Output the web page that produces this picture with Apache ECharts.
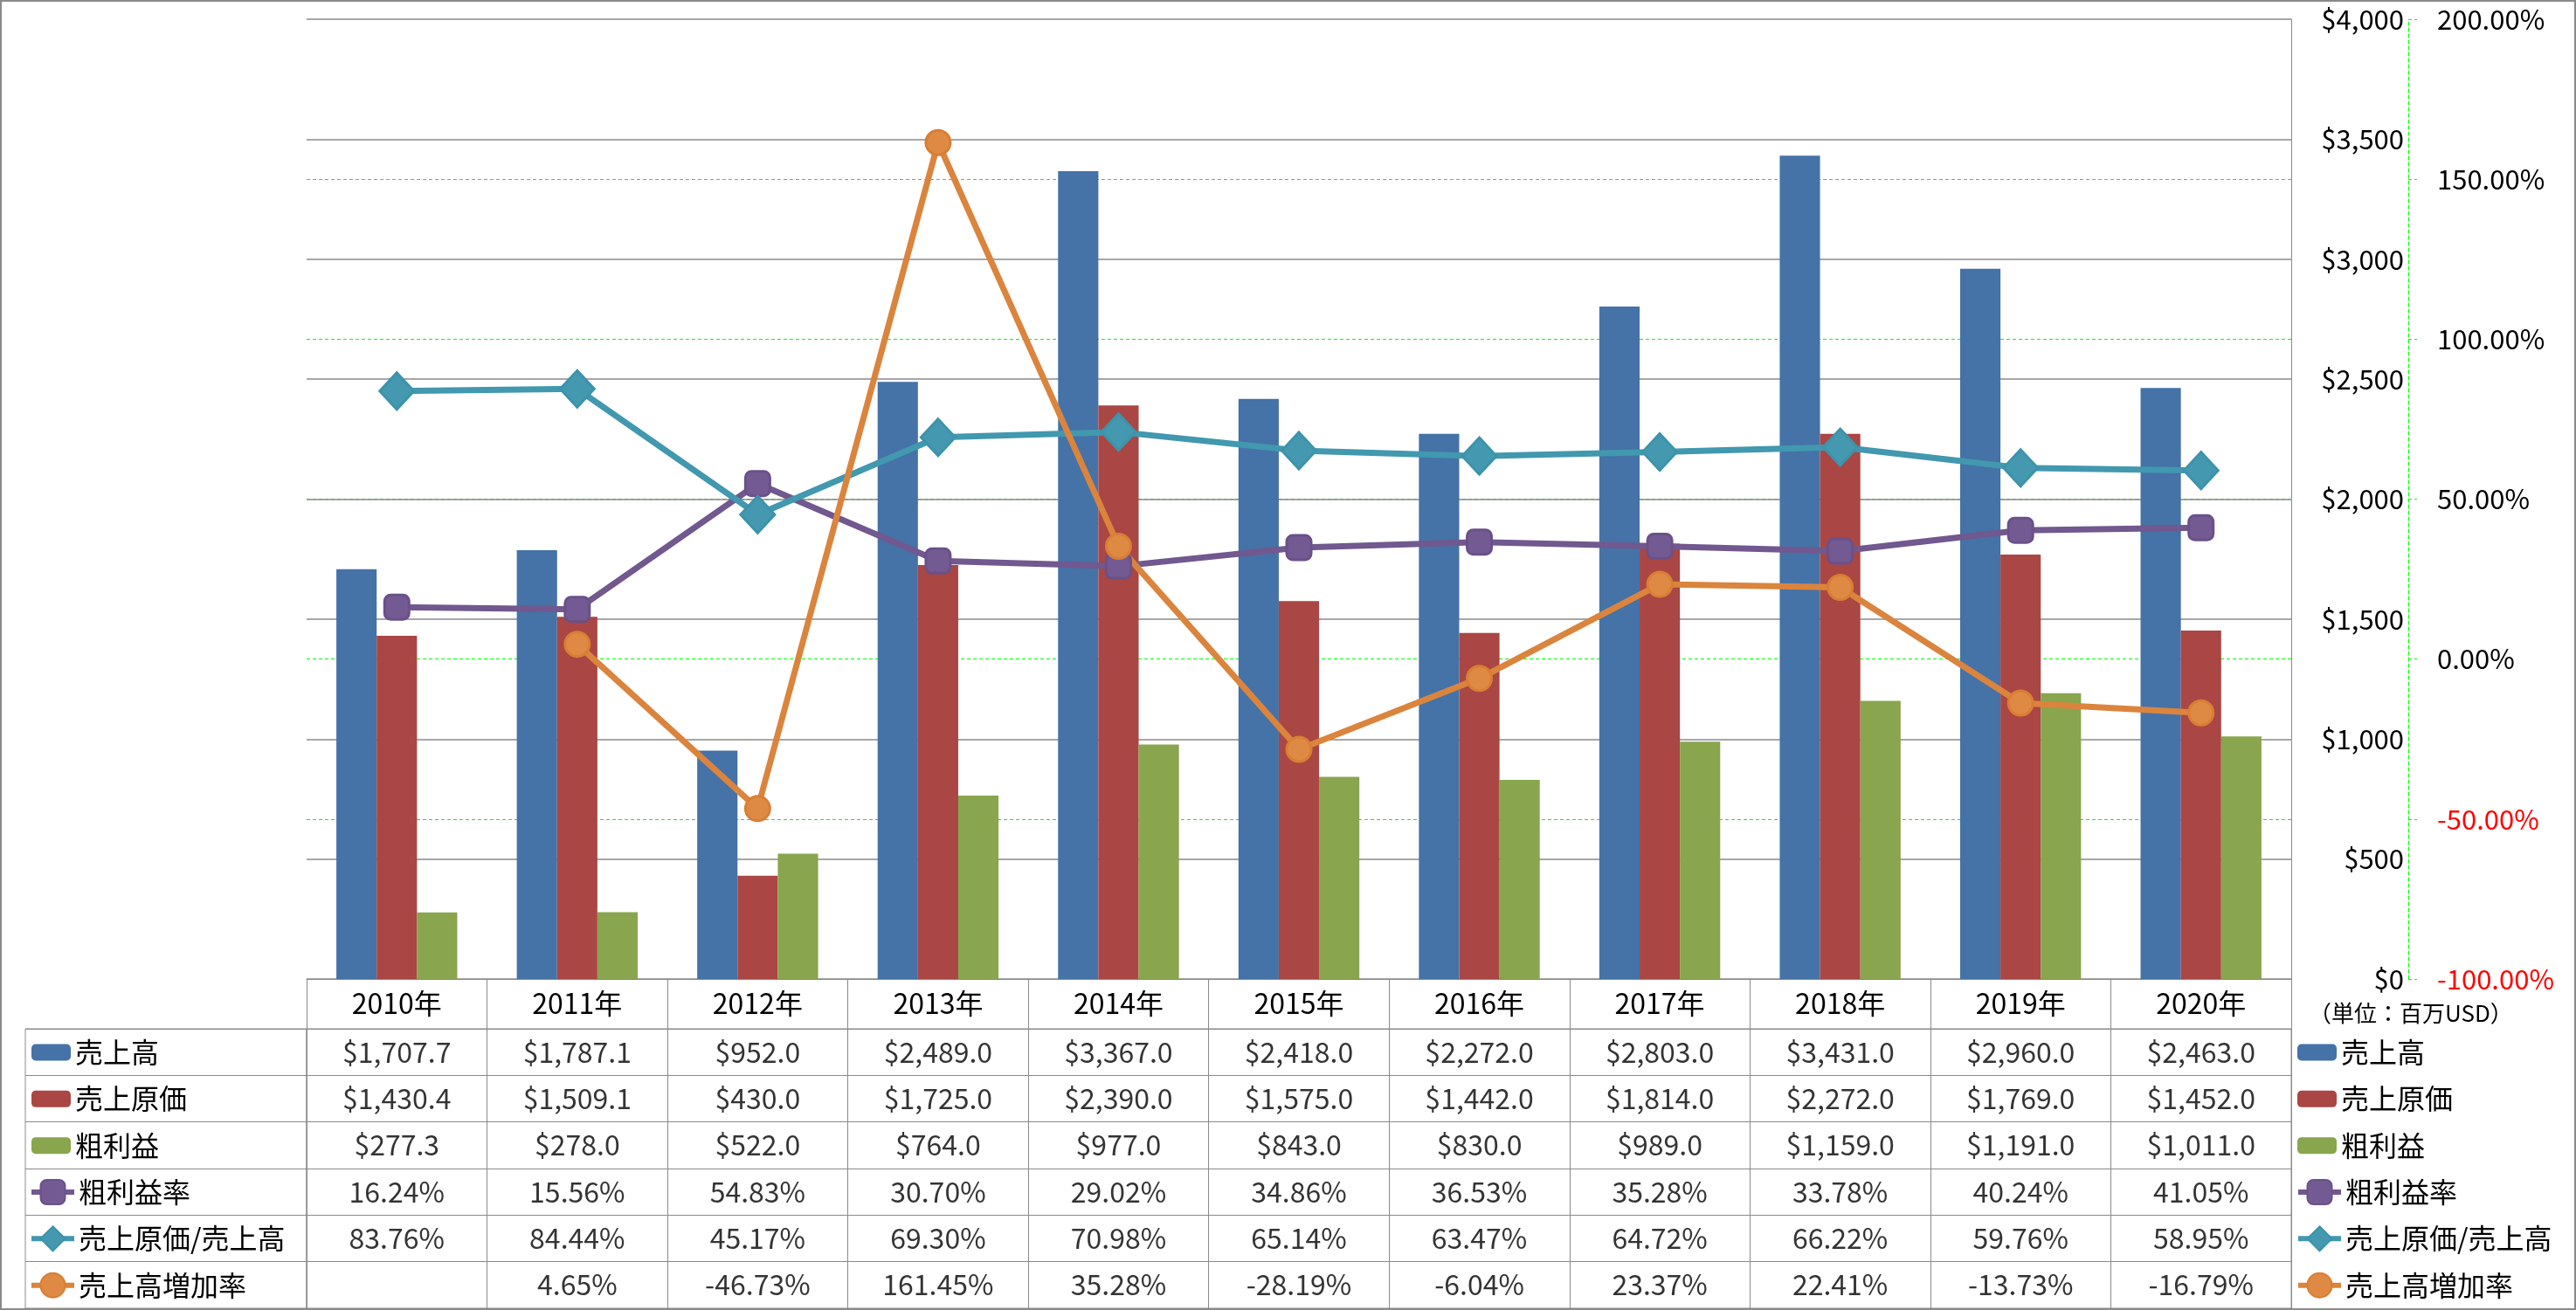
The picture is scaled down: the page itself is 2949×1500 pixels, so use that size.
<!DOCTYPE html>
<html><head><meta charset="utf-8">
<script src="https://cdn.jsdelivr.net/npm/echarts@6/dist/echarts.min.js"></script>
<style>html,body{margin:0;padding:0;background:#fff}#c{width:2949px;height:1500px}</style>
</head><body><div id="c"></div>
<script>
// ---- data ----
const years = ['2010年','2011年','2012年','2013年','2014年','2015年','2016年','2017年','2018年','2019年','2020年'];
const seriesNames = ['売上高','売上原価','粗利益','粗利益率','売上原価/売上高','売上高増加率'];
const sales = [1707.7, 1787.1, 952.0, 2489.0, 3367.0, 2418.0, 2272.0, 2803.0, 3431.0, 2960.0, 2463.0];
const cogs = [1430.4, 1509.1, 430.0, 1725.0, 2390.0, 1575.0, 1442.0, 1814.0, 2272.0, 1769.0, 1452.0];
const grossProfit = [277.3, 278.0, 522.0, 764.0, 977.0, 843.0, 830.0, 989.0, 1159.0, 1191.0, 1011.0];
const grossMargin = [16.24, 15.56, 54.83, 30.70, 29.02, 34.86, 36.53, 35.28, 33.78, 40.24, 41.05];
const cogsRatio = [83.76, 84.44, 45.17, 69.30, 70.98, 65.14, 63.47, 64.72, 66.22, 59.76, 58.95];
const salesGrowth = [null, 4.65, -46.73, 161.45, 35.28, -28.19, -6.04, 23.37, 22.41, -13.73, -16.79];
const unitNote = '（単位：百万USD）';

// ---- style ----
const FONT = '"Noto Sans CJK JP","Noto Sans",sans-serif';
const colors = ['#4572A7','#AA4643','#89A54E','#71588F','#4198AF','#DB843D'];
const fills = ['#4572A7','#AA4643','#89A54E','#745a92','#4499b1','#de8a45'];
const borders = ['#4572A7','#AA4643','#89A54E','#6a5189','#3d93aa','#d97e34'];
const GRAY = '#8a8a8a';
const GREEN = '#00FF00';
const FS = 32;

const money = v => '$' + v.toLocaleString('en-US', {minimumFractionDigits: 1, maximumFractionDigits: 1});
const pct = v => v.toFixed(2) + '%';
const tableRows = [
  sales.map(money), cogs.map(money), grossProfit.map(money),
  grossMargin.map(pct), cogsRatio.map(pct), salesGrowth.map(v => v == null ? '' : pct(v))
];
const cellData = [];
tableRows.forEach((row, r) => row.forEach((t, i) => { if (t !== '') cellData.push([i, r]); }));

const chart = echarts.init(document.getElementById('c'), null, {renderer: 'canvas'});

// yAxis 0 = percent (green, drawn first), yAxis 1 = money (gray, drawn above)
const barSeries = [sales, cogs, grossProfit].map((d, k) => ({
  type: 'bar', name: seriesNames[k], data: d, xAxisIndex: 0, yAxisIndex: 1,
  barGap: '0%', barCategoryGap: '33%', itemStyle: {color: colors[k]}
}));
const symbols = ['roundRect', 'diamond', 'circle'];
const sizes = [28, [39, 42], 28];
const lineSeries = [grossMargin, cogsRatio, salesGrowth].map((d, k) => ({
  type: 'line', name: seriesNames[3 + k], data: d, xAxisIndex: 0, yAxisIndex: 0,
  symbol: symbols[k], symbolSize: sizes[k],
  lineStyle: {width: 7, color: colors[3 + k]},
  itemStyle: {color: fills[3 + k], borderColor: borders[3 + k], borderWidth: 3},
  z: 3
}));

const legendText = {fontSize: FS, lineHeight: 40, color: '#000', fontFamily: FONT};
const mkLegend = (names, left, top, w, h) => ({
  data: names, orient: 'vertical', left: left, top: top, itemWidth: w, itemHeight: h,
  itemGap: 13.33, padding: 0, selectedMode: false, textStyle: legendText,
  lineStyle: {width: 6}
});

const option = {
  backgroundColor: '#fff',
  animation: false,
  textStyle: {fontFamily: FONT},
  title: {text: unitNote, left: 2643, top: 1147, padding: 0,
    textStyle: {fontSize: 26, fontWeight: 'normal', color: '#000', fontFamily: FONT}},
  graphic: [{type: 'rect', shape: {x: 1, y: 1, width: 2947, height: 1498},
    style: {fill: 'none', stroke: GRAY, lineWidth: 2}, silent: true, z: 100}],
  legend: [
    mkLegend(seriesNames.slice(0, 3), 36, 1185, 45, 19),
    mkLegend(seriesNames.slice(3), 33, 1345, 49, 35),
    mkLegend(seriesNames.slice(0, 3), 2630, 1185, 45, 19),
    mkLegend(seriesNames.slice(3), 2628, 1345, 49, 35)
  ],
  grid: [
    {left: 351, right: 326, top: 22, bottom: 379, containLabel: false},
    {left: 351, right: 326, top: 1178, height: 320, show: true, borderColor: GRAY, borderWidth: 1},
    {left: 29, width: 322, top: 1178, height: 320, show: true, borderColor: GRAY, borderWidth: 1}
  ],
  xAxis: [
    {gridIndex: 0, type: 'category', data: years, position: 'bottom',
      axisLine: {show: true, onZero: false, lineStyle: {color: GRAY, width: 1}},
      axisTick: {show: true, length: 57, lineStyle: {color: GRAY, width: 1}},
      axisLabel: {fontSize: FS, color: '#000', margin: 28, verticalAlign: 'middle', fontFamily: FONT},
      splitLine: {show: false}},
    {gridIndex: 1, type: 'category', data: years,
      axisLine: {show: false}, axisTick: {show: false}, axisLabel: {show: false},
      splitLine: {show: true, lineStyle: {color: GRAY, width: 1}}},
    {gridIndex: 2, type: 'category', data: [''],
      axisLine: {show: false}, axisTick: {show: false}, axisLabel: {show: false}, splitLine: {show: false}}
  ],
  yAxis: [
    {gridIndex: 0, type: 'value', position: 'right', offset: 134, min: -100, max: 200, interval: 50,
      axisLine: {show: true, lineStyle: {color: GREEN, width: 1.2, type: [4, 3]}},
      axisTick: {show: true, length: 10, lineStyle: {color: GREEN, width: 1.2, type: [4, 3]}},
      axisLabel: {margin: 33, fontSize: 31, fontFamily: FONT, formatter: v => v.toFixed(2) + '%',
        color: v => (parseFloat(v) < 0 ? '#FF0000' : '#000')},
      splitLine: {show: true, showMinLine: false, showMaxLine: false,
        lineStyle: {color: GREEN, width: 1.2, type: [4, 3]}}},
    {gridIndex: 0, type: 'value', position: 'right', min: 0, max: 4000, interval: 500,
      axisLine: {show: true, lineStyle: {color: GRAY, width: 1}},
      axisTick: {show: false},
      axisLabel: {margin: 129, align: 'right', fontSize: 31, color: '#000', fontFamily: FONT,
        formatter: v => '$' + v.toLocaleString('en-US')},
      splitLine: {show: true, lineStyle: {color: GRAY, width: 1.5}}},
    {gridIndex: 1, type: 'category', data: seriesNames, inverse: true,
      axisLine: {show: false}, axisTick: {show: false}, axisLabel: {show: false},
      splitLine: {show: true, lineStyle: {color: GRAY, width: 1}}},
    {gridIndex: 2, type: 'category', data: seriesNames, inverse: true,
      axisLine: {show: false}, axisTick: {show: false}, axisLabel: {show: false},
      splitLine: {show: true, lineStyle: {color: GRAY, width: 1}}}
  ],
  series: [
    ...barSeries,
    ...lineSeries,
    {type: 'scatter', name: 'table', xAxisIndex: 1, yAxisIndex: 2, data: cellData,
      symbolSize: 1, itemStyle: {color: 'rgba(0,0,0,0)'}, silent: true,
      label: {show: true, position: 'inside', fontSize: FS, color: '#000', fontFamily: FONT,
        formatter: p => tableRows[p.value[1]][p.value[0]]}}
  ]
};
chart.setOption(option);
</script>
</body></html>
